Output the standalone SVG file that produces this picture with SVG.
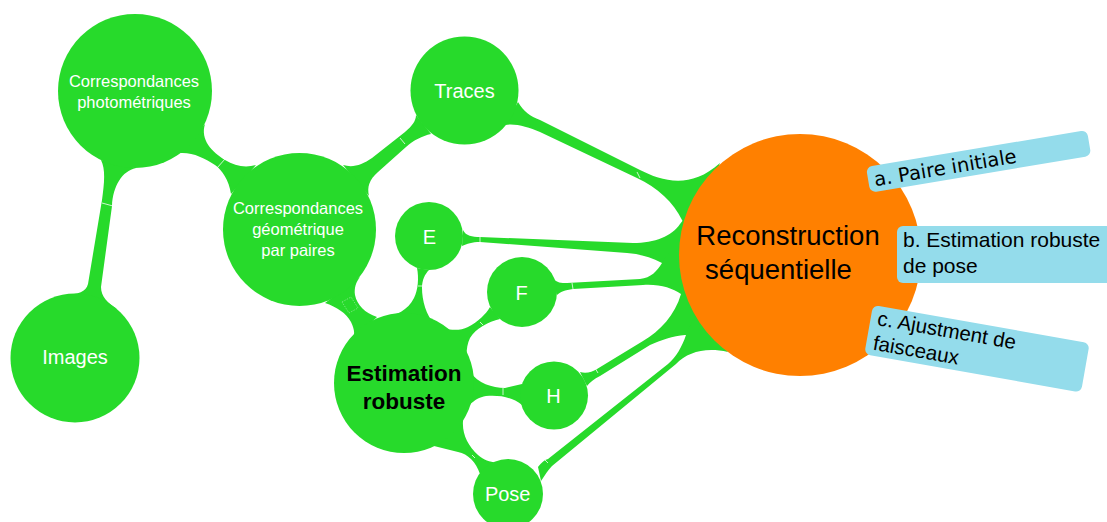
<svg xmlns="http://www.w3.org/2000/svg" width="1107" height="522" viewBox="0 0 1107 522">
<style>
.g{fill:#27DA2B}
.o{fill:#FF8000}
.b{fill:#94DCEB}
.wt{fill:#FFFFFF;font-family:"Liberation Sans",Arial,sans-serif;text-anchor:middle}
.bk{fill:#000000;font-family:"Liberation Sans",Arial,sans-serif}
.seam{stroke:#FFFFFF;stroke-width:0.9;fill:none;opacity:0.85}
</style>
<rect width="1107" height="522" fill="#FFFFFF"/>
<g id="connectors" class="g">
<path d="M101,160 C106,170 104,185 102,200 L88,284 C86,292 78,294 66,295 L117,309 C108,303 101,297 101,287 L112,206 C113,186 122,171 136,168 Z"/>
<path d="M205,124 C200,140 212,152 225,160 C235,166 245,168 256,165 L231,194 C229,180 222,170 215,165 C205,158 192,152 180,153 Z"/>
<path d="M343,165 C353,168 362,165 372,158 L405,132 C412,126 416,121 416,115 L431,134 C422,136 414,140 406,147 L378,172 C369,180 367,187 369,196 Z"/>
<path d="M518,102 C524,112 530,116 540,120 L640,170 C662,181 690,190 720,163 L692,240 C688,232 686,226 682,220 C674,203 657,187 637,178 L540,132 C528,127 515,123 505,125 Z"/>
<path d="M463,230 C466,236 472,237 480,237 L633,243 C655,243 672,236 680,224 L695,205 L686,286 C678,276 670,267 662,263 C650,257 640,254 627,253 L480,242 C472,242 467,244 462,246 Z"/>
<path d="M553,278 C557,283 561,283 567,283 L640,279 C651,278 657,271 662,263 C667,254 675,245 686,236 L696,310 C690,302 686,297 681,294 C672,288 660,284 643,285 L573,289 C565,290 560,292 557,295 Z"/>
<path d="M580,372 C586,374 592,372 597,369 L643,341 C660,331 675,315 681,294 C683,287 686,282 692,276 L716,338 C702,334 693,334 685,335 C673,336 661,340 650,345 L600,376 C594,379 590,382 587,386 Z"/>
<path d="M538,467 C541,463 544,460 548,459 L668,364 C676,357 682,347 686,335 C689,326 694,318 702,312 L728,352 C705,347 688,352 676,364 L552,466 C548,470 545,475 541,481 Z"/>
<path d="M325,303 C337,307 346,313 351,322 C355,330 355,336 352,340 L377,317 C365,313 357,305 355,295 C354,288 356,282 360,277 Z"/>
<path d="M417,268 C419,278 418,290 414,298 C408,310 396,316 383,317 L404,383 L470,375 C466,362 465,348 470,338 C476,328 488,322 500,319 L490,307 C486,314 478,322 468,327 C458,332 444,330 435,324 C426,316 422,300 422,288 C422,280 425,274 429,270 Z"/>
<path d="M470,372 C478,383 492,388 505,388 L522,384 L522,405 C512,397 500,395 486,396 C473,398 464,409 463,421 C462,434 468,446 478,455 C485,461 492,463 500,462 L480,474 C476,462 468,454 458,452 C450,450 442,448 434,446 L404,383 Z"/>
<g id="seams" class="seam">
<line x1="102" y1="203" x2="113" y2="206"/>
<line x1="217" y1="168" x2="225" y2="159"/>
<line x1="400" y1="138" x2="405" y2="144"/>
<line x1="637" y1="172" x2="640" y2="178"/>
<line x1="480" y1="237" x2="480" y2="242"/>
<line x1="572" y1="283" x2="573" y2="289"/>
<line x1="595" y1="368" x2="598" y2="373"/>
<line x1="545" y1="460" x2="548" y2="463"/>
<line x1="418" y1="286" x2="424" y2="286"/>
<line x1="480" y1="322" x2="483" y2="325"/>
<line x1="503" y1="388" x2="503" y2="395"/>
<line x1="472" y1="455" x2="475" y2="458"/>
<path d="M342,302 L351,297 L358,308 L349,313 Z" stroke-width="0.6" stroke-dasharray="1.5 1.2" opacity="0.7"/>
</g>
</g>
<g id="node-photometriques">
<circle class="g" cx="135" cy="91" r="77"/>
<text class="wt" font-size="16.5"><tspan x="134" y="87">Correspondances</tspan><tspan x="134" y="108">photométriques</tspan></text>
</g>
<g id="node-images">
<circle class="g" cx="75" cy="358" r="64.5"/>
<text class="wt" font-size="20" x="75" y="364">Images</text>
</g>
<g id="node-geometrique">
<circle class="g" cx="299.5" cy="229.5" r="76.5"/>
<text class="wt" font-size="16.5"><tspan x="298" y="213.5">Correspondances</tspan><tspan x="298" y="234.5">géométrique</tspan><tspan x="298" y="255.5">par paires</tspan></text>
</g>
<g id="node-traces">
<circle class="g" cx="464.5" cy="90.5" r="54"/>
<text class="wt" font-size="20" x="464.5" y="97.5">Traces</text>
</g>
<g id="node-E">
<circle class="g" cx="429" cy="236" r="34"/>
<text class="wt" font-size="20" x="429.3" y="244">E</text>
</g>
<g id="node-F">
<circle class="g" cx="522" cy="292" r="35"/>
<text class="wt" font-size="20" x="521.7" y="299.5">F</text>
</g>
<g id="node-H">
<circle class="g" cx="554" cy="395.5" r="34"/>
<text class="wt" font-size="20" x="553.5" y="402.7">H</text>
</g>
<g id="node-pose">
<circle class="g" cx="508" cy="494" r="35"/>
<text class="wt" font-size="20" x="507.7" y="500.5">Pose</text>
</g>
<g id="node-estimation">
<circle class="g" cx="404" cy="383" r="70"/>
<text class="bk" font-size="22.5" font-weight="bold" text-anchor="middle"><tspan x="404" y="381">Estimation</tspan><tspan x="404" y="408.5">robuste</tspan></text>
</g>
<g id="node-reconstruction">
<circle class="o" cx="800" cy="255" r="121"/>
<text class="bk" font-size="27.5" text-anchor="middle"><tspan x="788" y="245">Reconstruction</tspan><tspan x="778.5" y="279">séquentielle</tspan></text>
</g>
<g id="node-a" transform="translate(866,167) rotate(-9.5)">
<rect class="b" x="0" y="0" width="224" height="26" rx="6"/>
<text font-family="'DejaVu Sans',Verdana,sans-serif" font-size="19.5" fill="#000" x="6" y="20.5">a. Paire initiale</text>
</g>
<g id="node-b">
<rect class="b" x="897" y="226" width="222" height="57" rx="6"/>
<text class="bk" font-size="21"><tspan x="903" y="247">b. Estimation robuste</tspan><tspan x="903" y="273">de pose</tspan></text>
</g>
<g id="node-c" transform="translate(873,305) rotate(10)">
<rect class="b" x="0" y="0" width="220" height="50" rx="6"/>
<text class="bk" font-size="20.5"><tspan x="7" y="19">c. Ajustment de</tspan><tspan x="7" y="44">faisceaux</tspan></text>
</g>
</svg>
